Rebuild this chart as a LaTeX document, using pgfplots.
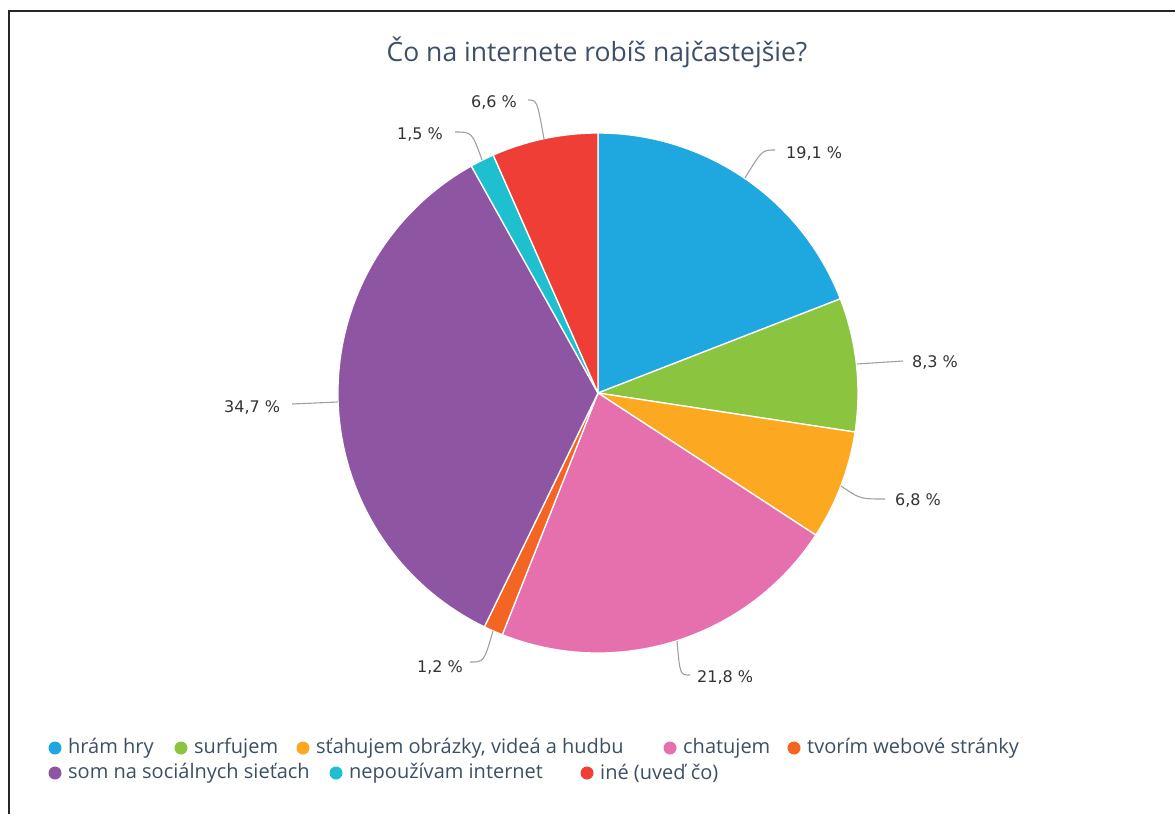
\documentclass[border=0pt]{standalone}
\usepackage{pgfplots}
\pgfplotsset{compat=1.18}
\usepackage{fontspec}
\setmainfont{Open Sans}
\newfontfamily\lblfont{DejaVu Sans}
\definecolor{c1}{HTML}{1FA8E0}
\definecolor{c2}{HTML}{8BC540}
\definecolor{c3}{HTML}{FCA820}
\definecolor{c4}{HTML}{E66FAD}
\definecolor{c5}{HTML}{F26522}
\definecolor{c6}{HTML}{8E56A2}
\definecolor{c7}{HTML}{1EBFCF}
\definecolor{c8}{HTML}{EF3E36}
\definecolor{ttlc}{HTML}{3D5066}
\definecolor{lgc}{HTML}{3D4F63}
\definecolor{lblc}{HTML}{333333}
\definecolor{leadc}{HTML}{A0A0A0}
% start (cumulative %), value (%), colour
\newcommand\slice[3]{%
  \fill[#3, draw=white, line width=1.3pt, line join=round]
    (axis cs:598,-393) -- (axis cs:{598+260*cos(90-3.6*#1)},{-393+260*sin(90-3.6*#1)})
    arc[start angle={90-3.6*#1}, end angle={90-3.6*(#1+#2)}, radius=260pt] -- cycle;}
\newcommand\legitem[4]{%
  \fill[#3] (axis cs:#1,#2) circle[radius=6.5pt];
  \node[anchor=west, inner sep=0pt, text=lgc, font=\fontsize{20}{23}\selectfont] at (axis cs:#1+13,#2) {#4};}
\newcommand\lbl[3]{%
  \node[anchor=west, inner sep=0pt, text=lblc, font=\lblfont\fontsize{16}{19}\selectfont] at (axis cs:#1,#2) {#3};}
\begin{document}
\begin{tikzpicture}
\path[use as bounding box] (0pt,-814pt) rectangle (1175pt,0pt);
\begin{axis}[
  at={(0pt,-814pt)}, anchor=south west,
  hide axis, scale only axis, clip=false,
  width=1175pt, height=814pt,
  xmin=0, xmax=1175, ymin=-814, ymax=0,
]
% frame
\draw[black!85, line width=2pt] (axis cs:9,-814) -- (axis cs:9,-11) -- (axis cs:1175,-11);
% title
\node[text=ttlc, font=\fontsize{26.5}{30}\selectfont] at (axis cs:597,-52) {Čo na internete robíš najčastejšie?};
% pie
\slice{0}{19.1}{c1}
\slice{19.1}{8.3}{c2}
\slice{27.4}{6.8}{c3}
\slice{34.2}{21.8}{c4}
\slice{56.0}{1.2}{c5}
\slice{57.2}{34.7}{c6}
\slice{91.9}{1.5}{c7}
\slice{93.4}{6.6}{c8}
% leader lines
\draw[leadc, line width=1.1pt] (axis cs:745,-178) .. controls (axis cs:762,-150) .. (axis cs:775,-150);
\draw[leadc, line width=1.1pt] (axis cs:857,-364) -- (axis cs:903,-361);
\draw[leadc, line width=1.1pt] (axis cs:841,-486) .. controls (axis cs:860,-499) .. (axis cs:885,-499);
\draw[leadc, line width=1.1pt] (axis cs:677,-641) .. controls (axis cs:680,-675) .. (axis cs:690,-675);
\draw[leadc, line width=1.1pt] (axis cs:493,-631) .. controls (axis cs:484,-662) .. (axis cs:470,-662);
\draw[leadc, line width=1.1pt] (axis cs:338,-402) -- (axis cs:292,-404);
\draw[leadc, line width=1.1pt] (axis cs:482,-160) .. controls (axis cs:472,-132) .. (axis cs:455,-132);
\draw[leadc, line width=1.1pt] (axis cs:544,-139) .. controls (axis cs:537,-100) .. (axis cs:528,-100);
% labels
\lbl{786}{-153}{19,1 \%}
\lbl{912}{-362}{8,3 \%}
\lbl{895}{-500}{6,8 \%}
\lbl{697}{-677}{21,8 \%}
\lbl{417}{-667}{1,2 \%}
\lbl{224}{-407}{34,7 \%}
\lbl{397}{-134}{1,5 \%}
\lbl{471}{-102}{6,6 \%}
% legend
\legitem{55}{-748}{c1}{hrám hry}
\legitem{181}{-748}{c2}{surfujem}
\legitem{303}{-748}{c3}{sťahujem obrázky, videá a hudbu}
\legitem{670}{-748}{c4}{chatujem}
\legitem{794}{-748}{c5}{tvorím webové stránky}
\legitem{55}{-773}{c6}{som na sociálnych sieťach}
\legitem{336}{-773}{c7}{nepoužívam internet}
\legitem{587}{-773}{c8}{iné (uveď čo)}
\end{axis}
\end{tikzpicture}
\end{document}
